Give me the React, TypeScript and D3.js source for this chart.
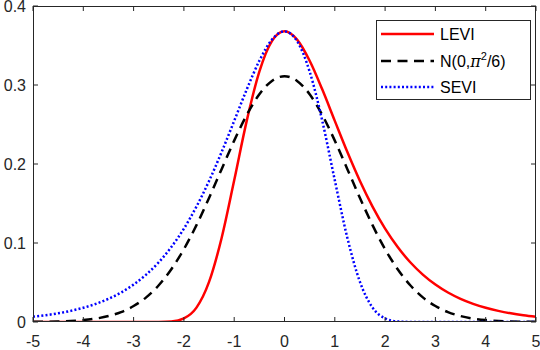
import React from 'react';
import * as d3 from 'd3';

// x grid the curves were read at
const xs = [
  -5, -4.75, -4.5, -4.25, -4, -3.75, -3.5, -3.25, -3, -2.75, -2.5, -2.25, -2, -1.75, -1.5, -1.25, -1, -0.75, -0.5, -0.25,
  0, 0.25, 0.5, 0.75, 1, 1.25, 1.5, 1.75, 2, 2.25, 2.5, 2.75, 3, 3.25, 3.5, 3.75, 4, 4.25, 4.5, 4.75, 5,
];

const levi = [
  0, 0, 0, 0, 0, 0, 0, 0, 0, 0, 0.0001, 0.0007, 0.0046, 0.0182, 0.0507, 0.1064, 0.1794, 0.2549, 0.317, 0.3556,
  0.3679, 0.3574, 0.3307, 0.2945, 0.2546, 0.2151, 0.1785, 0.1461, 0.1182, 0.0949, 0.0756, 0.06, 0.0474, 0.0373, 0.0293,
  0.023, 0.018, 0.0141, 0.011, 0.0086, 0.0067,
];

const normal = [
  0.0002, 0.0003, 0.0007, 0.0013, 0.0024, 0.0043, 0.0075, 0.0125, 0.0202, 0.0312, 0.0465, 0.0668, 0.0922, 0.1226,
  0.157, 0.1935, 0.2296, 0.2622, 0.2883, 0.3052, 0.3111, 0.3052, 0.2883, 0.2622, 0.2296, 0.1935, 0.157, 0.1226, 0.0922,
  0.0668, 0.0465, 0.0312, 0.0202, 0.0125, 0.0075, 0.0043, 0.0024, 0.0013, 0.0007, 0.0003, 0.0002,
];

const sevi = [
  0.0067, 0.0086, 0.011, 0.0141, 0.018, 0.023, 0.0293, 0.0373, 0.0474, 0.06, 0.0756, 0.0949, 0.1182, 0.1461, 0.1785,
  0.2151, 0.2546, 0.2945, 0.3307, 0.3574, 0.3679, 0.3556, 0.317, 0.2549, 0.1794, 0.1064, 0.0507, 0.0182, 0.0046, 0.0007,
  0.0001, 0, 0, 0, 0, 0, 0, 0, 0, 0, 0,
];

const xTicks = [-5, -4, -3, -2, -1, 0, 1, 2, 3, 4, 5];
const yTicks = [0, 0.1, 0.2, 0.3, 0.4];

const W = 540;
const H = 350;
const m = { left: 33, right: 4, top: 6, bottom: 28 };
const axisColor = '#262626';
const font = '"Liberation Sans", Arial, Helvetica, sans-serif';

const App = () => {
  const x = d3.scaleLinear().domain([-5, 5]).range([m.left, W - m.right]);
  const y = d3.scaleLinear().domain([0, 0.4]).range([H - m.bottom, m.top]);

  const line = d3
    .line<number>()
    .x((_, i) => x(xs[i]))
    .y(d => y(d))
    .curve(d3.curveMonotoneX);

  const x0 = x(-5);
  const x1 = x(5);
  const y0 = y(0);
  const y1 = y(0.4);

  const lg = { x: 376.5, y: 20.5, w: 154, h: 79 };
  const rows = [
    { label: 'LEVI', color: '#ff0000', dash: 'none', yy: 34 },
    { label: 'N', color: '#000000', dash: '10,6.5', yy: 61 },
    { label: 'SEVI', color: '#0000ff', dash: '2,2.2', yy: 87 },
  ];

  return (
    <svg
      width={W}
      height={H}
      style={{ position: 'absolute', left: 0, top: 0, background: '#fff' }}
      fontFamily={font}
    >
      <defs>
        <clipPath id="plot">
          <rect x={x0} y={y1} width={x1 - x0} height={y0 - y1} />
        </clipPath>
      </defs>
      <rect width={W} height={H} fill="#fff" />

      <g clipPath="url(#plot)" fill="none" strokeWidth={2.5}>
        <path d={line(levi) || ''} stroke="#ff0000" />
        <path d={line(normal) || ''} stroke="#000000" strokeDasharray="10,6.5" />
        <path d={line(sevi) || ''} stroke="#0000ff" strokeDasharray="2,2.2" />
      </g>

      {/* box */}
      <rect
        x={x0 + 0.5}
        y={y1 + 0.5}
        width={x1 - x0 - 1}
        height={y0 - y1 - 1}
        fill="none"
        stroke={axisColor}
        strokeWidth={1}
      />

      {/* x ticks */}
      {xTicks.map(t => (
        <g key={'x' + t}>
          <line x1={x(t)} x2={x(t)} y1={y0} y2={y0 - 5} stroke={axisColor} />
          <line x1={x(t)} x2={x(t)} y1={y1} y2={y1 + 5} stroke={axisColor} />
          <text x={x(t)} y={347} textAnchor="middle" fontSize={16} fill={axisColor}>
            {t}
          </text>
        </g>
      ))}

      {/* y ticks */}
      {yTicks.map(t => (
        <g key={'y' + t}>
          <line x1={x0} x2={x0 + 5} y1={y(t)} y2={y(t)} stroke={axisColor} />
          <line x1={x1} x2={x1 - 5} y1={y(t)} y2={y(t)} stroke={axisColor} />
          <text x={26} y={y(t) + 6} textAnchor="end" fontSize={16} fill={axisColor}>
            {t === 0 ? '0' : t.toFixed(1)}
          </text>
        </g>
      ))}

      {/* legend */}
      <rect x={lg.x} y={lg.y} width={lg.w} height={lg.h} fill="#fff" stroke={axisColor} strokeWidth={1} />
      {rows.map(r => (
        <g key={r.label}>
          <line
            x1={381}
            x2={434}
            y1={r.yy}
            y2={r.yy}
            stroke={r.color}
            strokeWidth={2.5}
            strokeDasharray={r.dash}
          />
          <text x={440} y={r.yy + 6} fontSize={16} fill="#000">
            {r.label === 'N' ? (
              <>
                N(0,
                <tspan fontFamily='"DejaVu Serif", serif' fontStyle="italic">
                  π
                </tspan>
                <tspan dy={-7} fontSize={11}>
                  2
                </tspan>
                <tspan dy={7}>/6)</tspan>
              </>
            ) : (
              r.label
            )}
          </text>
        </g>
      ))}
    </svg>
  );
};

export default App;
